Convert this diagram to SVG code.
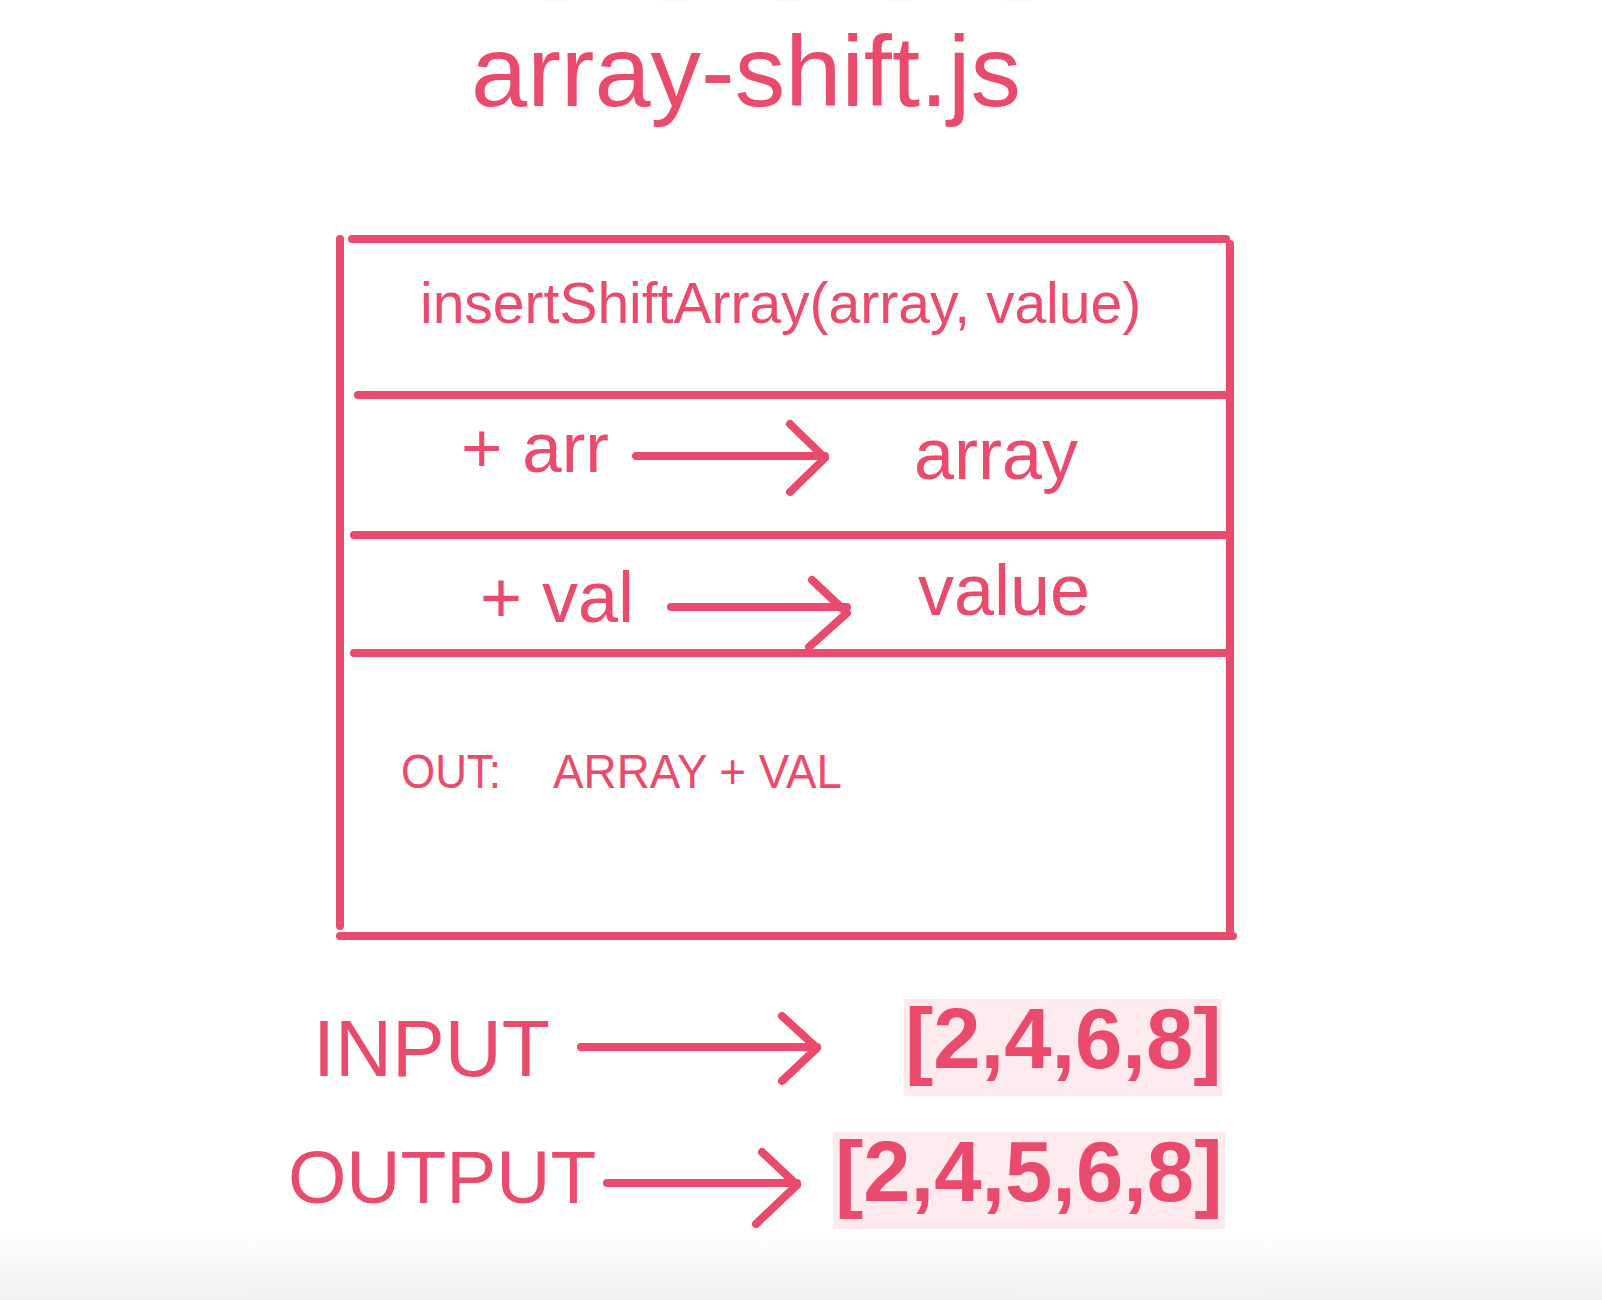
<svg xmlns="http://www.w3.org/2000/svg" width="1602" height="1300" viewBox="0 0 1602 1300">
  <defs>
    <linearGradient id="floor" x1="0" y1="0" x2="0" y2="1">
      <stop offset="0" stop-color="#ffffff"/>
      <stop offset="1" stop-color="#f0f0f0"/>
    </linearGradient>
    <style>
      .ln { stroke: #ea4a6b; stroke-width: 8; stroke-linecap: round; stroke-linejoin: round; fill: none; }
      .t { fill: #ea4a6b; font-family: "Liberation Sans", Arial, Helvetica, sans-serif; }
      .b { font-weight: bold; }
      .chip { fill: #fdeaee; }
      .dot { fill: #f8f8f8; }
    </style>
  </defs>
  <rect x="0" y="0" width="1602" height="1300" fill="#ffffff"/>
  <rect x="0" y="1232" width="1602" height="68" fill="url(#floor)"/>
  <g id="top-dots">
    <ellipse class="dot" cx="558" cy="-5" rx="22" ry="7"/>
    <ellipse class="dot" cx="673" cy="-5" rx="22" ry="7"/>
    <ellipse class="dot" cx="787" cy="-5" rx="22" ry="7"/>
    <ellipse class="dot" cx="902" cy="-5" rx="22" ry="7"/>
    <ellipse class="dot" cx="1017" cy="-5" rx="22" ry="7"/>
  </g>

  <g id="title">
    <text class="t" x="471" y="106" font-size="101">array-shift.js</text>
  </g>

  <g id="class-box">
    <path class="ln" d="M340 239 V926"/>
    <path class="ln" d="M352 239 H1226"/>
    <path class="ln" d="M1230 244 V931"/>
    <path class="ln" d="M358 395 H1226"/>
    <path class="ln" d="M354 535 H1226"/>
    <path class="ln" d="M354 653 H1226"/>
    <path class="ln" d="M340 936 H1233"/>
  </g>

  <g id="signature">
    <text class="t" x="420" y="323" font-size="57">insertShiftArray(array, value)</text>
  </g>

  <g id="param-arr">
    <text class="t" x="461" y="472" font-size="71">+ arr</text>
    <text class="t" x="914" y="479" font-size="72">array</text>
  </g>

  <g id="param-val">
    <text class="t" x="480" y="622" font-size="72">+ val</text>
    <text class="t" x="918" y="615" font-size="72">value</text>
  </g>

  <g id="out">
    <text class="t" x="401" y="788" font-size="48" textLength="100" lengthAdjust="spacingAndGlyphs">OUT:</text>
    <text class="t" x="553" y="788" font-size="48" textLength="289" lengthAdjust="spacingAndGlyphs">ARRAY + VAL</text>
  </g>

  <g id="input">
    <text class="t" x="313" y="1076" font-size="79">INPUT</text>
    <rect class="chip" x="904" y="999" width="318" height="97"/>
    <text class="t b" x="905" y="1068" font-size="85">[2,4,6,8]</text>
  </g>

  <g id="output">
    <text class="t" x="288" y="1203" font-size="75">OUTPUT</text>
    <rect class="chip" x="833" y="1132" width="392" height="97"/>
    <text class="t b" x="835" y="1201" font-size="85">[2,4,5,6,8]</text>
  </g>

  <g id="connectors">
    <path class="ln" d="M636 456 H825 M790 424 L825 458 L790 492"/>
    <path class="ln" d="M671 607 H847 M812 580 L847 613 L809 647"/>
    <path class="ln" d="M581 1047 H817 M782 1016 L817 1048 L782 1081"/>
    <path class="ln" d="M607 1183 H797 M762 1152 L797 1185 L756 1224"/>
  </g>
</svg>
